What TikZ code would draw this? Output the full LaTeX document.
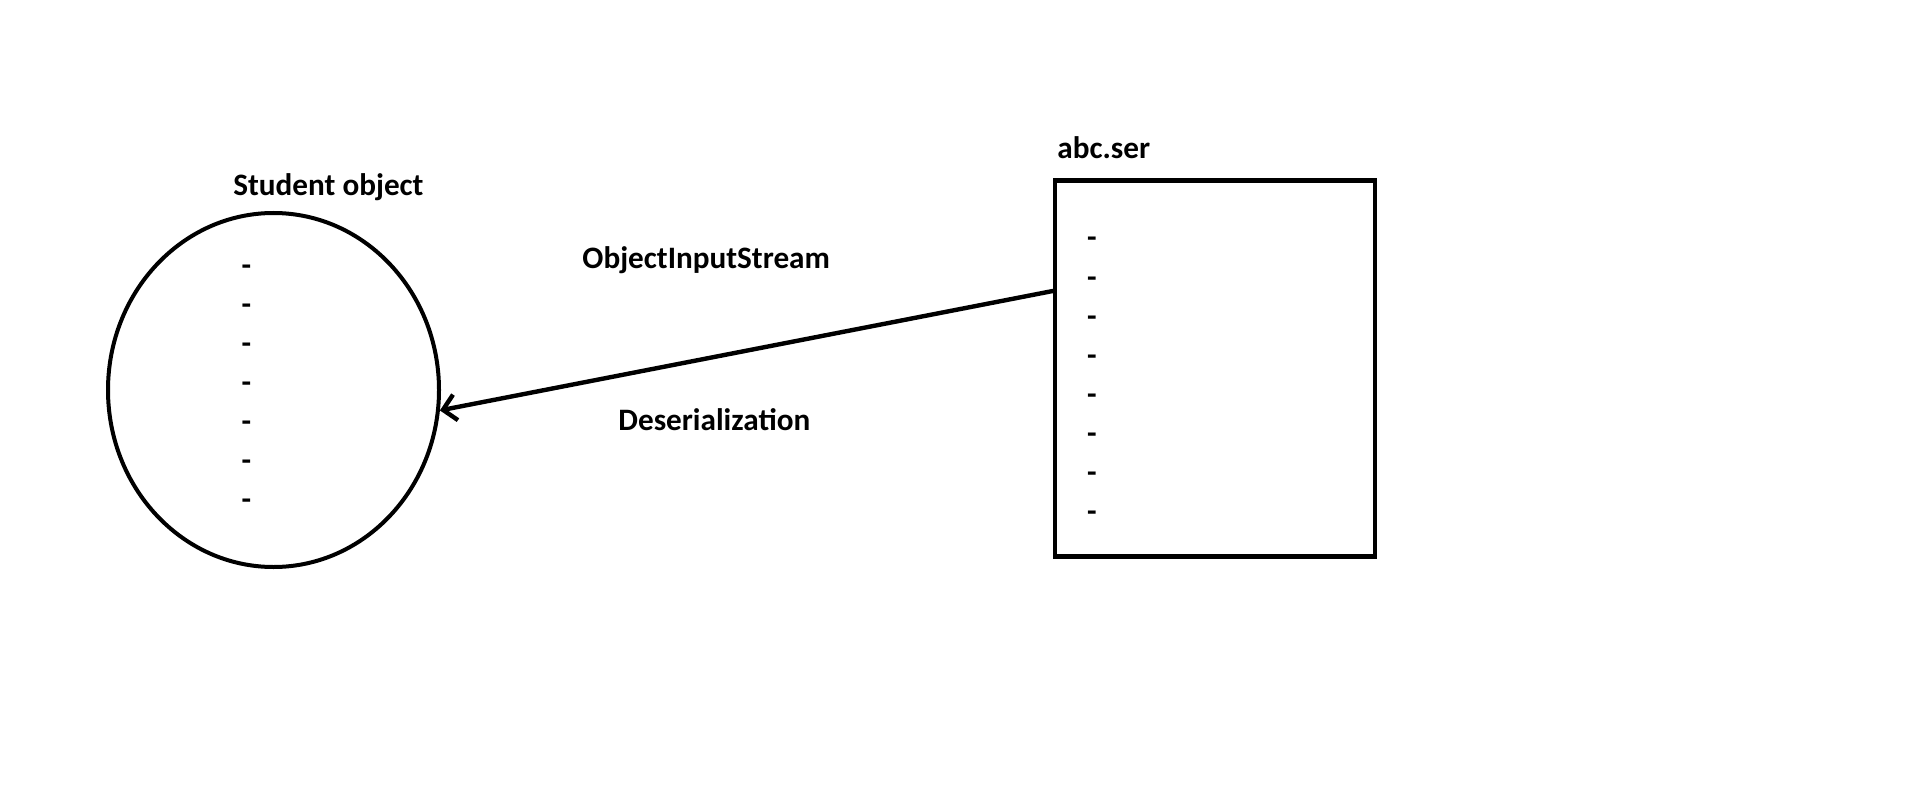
\documentclass[tikz,border=0pt]{standalone}
\usepackage{fontspec}
\setmainfont{Carlito}
\usetikzlibrary{arrows.meta,shapes.geometric,positioning}
\tikzstyle{objshape} = [ellipse, draw, line width=2pt, minimum width=165.5pt, minimum height=177pt, inner sep=0pt]
\tikzstyle{filebox} = [rectangle, draw, line width=2.2pt, minimum width=160pt, minimum height=188pt, inner sep=0pt]
\tikzstyle{lbl} = [inner sep=0pt, anchor=base west, font=\fontsize{15.6}{18}\selectfont\bfseries]
\tikzstyle{dashmark} = [inner sep=0pt, anchor=base, font=\fontsize{15.6}{18}\selectfont\bfseries]
\tikzstyle{arrow} = [line width=2.2pt, line cap=round, -{Straight Barb[length=6.4pt,width=13pt]}]

\begin{document}
\begin{tikzpicture}[x=0.5pt, y=-0.5pt]
\useasboundingbox (0,0) rectangle (1914,791);
% Student object side
\node[objshape] (student) at (273.5,390) {};
\node[lbl] (studentlabel) at (233,196) {Student object};
\foreach \i in {0,...,6}
  \node[dashmark] (sdash\i) at (246.5,275+39*\i) {-};

% File side
\node[filebox] (file) at (1215,368.5) {};
\node[lbl] (filelabel) at (1057,159) {abc.ser};
\foreach \i in {0,...,7}
  \node[dashmark] (fdash\i) at (1092,248+39*\i) {-};

% Stream between them
\draw[arrow] ([yshift=38.75pt]file.west) -- (student.-7.6);
\node[lbl] (streamlabel) at (582,268) {ObjectInputStream};
\node[lbl] (deserlabel) at (618,430) {Deserialization};
\end{tikzpicture}
\end{document}
